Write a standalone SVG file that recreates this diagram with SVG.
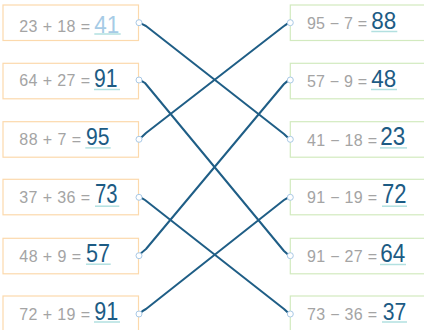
<svg xmlns="http://www.w3.org/2000/svg" width="424" height="330" viewBox="0 0 424 330">
<style>
.bl{fill:#fff;stroke:#fcd9ac;stroke-width:1.2}
.br{fill:#fff;stroke:#d2eabf;stroke-width:1.2}
.q{font-family:"Liberation Sans",Arial,sans-serif;font-size:16px;fill:#a4a4a4}
.a{font-family:"Liberation Sans",Arial,sans-serif;fill:#1c5b84}
.a.f{fill:#a6cbe6}
.u{stroke:#b2e0e0;stroke-width:1.5}
.c{fill:#fff;stroke:#a9c9e6;stroke-width:1}
.ln{fill:none;stroke:#1f5e86;stroke-width:2;stroke-linecap:round;stroke-linejoin:round}
</style>
<g id="connectors">
<path class="ln" d="M139,22.7 Q142,24 146,26 L284,134 Q287,137 290,139.3"/>
<path class="ln" d="M139,80 Q142,81 145,83 L284,251 Q287,254 290,255.7"/>
<path class="ln" d="M139,139.3 Q142,137 146,133 L284,26 Q287,23.5 290,22.7"/>
<path class="ln" d="M139,197.3 Q142,198 145,200 L284,309 Q287,312 290,314"/>
<path class="ln" d="M139,255.7 Q142,252 146,249 L284,84 Q287,81 290,80"/>
<path class="ln" d="M139,314 Q142,311 146,309 L284,200 Q287,198 290,197.3"/>
</g>
<g id="L1"><rect class="bl" x="3" y="5" width="135.5" height="35.5"/><text class="q" x="19.3" y="32.3" textLength="70.7">23 + 18 =</text><line class="u" x1="94.3" y1="34" x2="120.7" y2="34"/><text class="a f" x="94.3" y="32.7" font-size="24.7" textLength="25" lengthAdjust="spacingAndGlyphs">41</text><circle class="c" cx="139" cy="22.7" r="3"/></g>
<g id="L2"><rect class="bl" x="3" y="63.3" width="135.5" height="35.5"/><text class="q" x="19.3" y="86" textLength="70.7">64 + 27 =</text><line class="u" x1="94" y1="89.5" x2="120" y2="89.5"/><text class="a" x="94" y="87.3" font-size="26.5" textLength="23.5" lengthAdjust="spacingAndGlyphs">91</text><circle class="c" cx="139" cy="80" r="3"/></g>
<g id="L3"><rect class="bl" x="3" y="121.7" width="135.5" height="35.5"/><text class="q" x="19.3" y="145" textLength="61.7">88 + 7 =</text><line class="u" x1="85.3" y1="147.9" x2="110.7" y2="147.9"/><text class="a" x="86" y="145" font-size="24.7" textLength="23.5" lengthAdjust="spacingAndGlyphs">95</text><circle class="c" cx="139" cy="139.3" r="3"/></g>
<g id="L4"><rect class="bl" x="3" y="179.3" width="135.5" height="35.5"/><text class="q" x="19.3" y="203.3" textLength="70.7">37 + 36 =</text><line class="u" x1="95" y1="206.2" x2="119.3" y2="206.2"/><text class="a" x="95" y="203.3" font-size="27" textLength="22.5" lengthAdjust="spacingAndGlyphs">73</text><circle class="c" cx="139" cy="197.3" r="3"/></g>
<g id="L5"><rect class="bl" x="3" y="238.3" width="135.5" height="35.5"/><text class="q" x="19.3" y="261.7" textLength="61.7">48 + 9 =</text><line class="u" x1="86" y1="264.2" x2="110.7" y2="264.2"/><text class="a" x="86" y="261.7" font-size="25.7" textLength="24" lengthAdjust="spacingAndGlyphs">57</text><circle class="c" cx="139" cy="255.7" r="3"/></g>
<g id="L6"><rect class="bl" x="3" y="296" width="135.5" height="35.5"/><text class="q" x="19.3" y="320" textLength="70.7">72 + 19 =</text><line class="u" x1="94" y1="322" x2="120" y2="322"/><text class="a" x="94.3" y="320" font-size="25.6" textLength="24" lengthAdjust="spacingAndGlyphs">91</text><circle class="c" cx="139" cy="314" r="3"/></g>
<g id="R1"><rect class="br" x="290.3" y="5" width="140" height="35.5"/><text class="q" x="307" y="29" textLength="60">95 − 7 =</text><line class="u" x1="371.3" y1="31.5" x2="397.3" y2="31.5"/><text class="a" x="371.3" y="29.3" font-size="23.2" textLength="25" lengthAdjust="spacingAndGlyphs">88</text><circle class="c" cx="290.3" cy="22.7" r="3"/></g>
<g id="R2"><rect class="br" x="290.3" y="63.3" width="140" height="35.5"/><text class="q" x="307" y="86.7" textLength="60">57 − 9 =</text><line class="u" x1="371" y1="89.5" x2="397" y2="89.5"/><text class="a" x="371.3" y="87.3" font-size="23.2" textLength="25" lengthAdjust="spacingAndGlyphs">48</text><circle class="c" cx="290.3" cy="80" r="3"/></g>
<g id="R3"><rect class="br" x="290.3" y="121.7" width="140" height="35.5"/><text class="q" x="307" y="145.7" textLength="70">41 − 18 =</text><line class="u" x1="380" y1="147.9" x2="407" y2="147.9"/><text class="a" x="380.3" y="145" font-size="25.6" textLength="25" lengthAdjust="spacingAndGlyphs">23</text><circle class="c" cx="290.3" cy="139.3" r="3"/></g>
<g id="R4"><rect class="br" x="290.3" y="179.3" width="140" height="35.5"/><text class="q" x="307" y="203.3" textLength="70">91 − 19 =</text><line class="u" x1="382" y1="206.2" x2="407" y2="206.2"/><text class="a" x="382" y="203.3" font-size="27" textLength="24.5" lengthAdjust="spacingAndGlyphs">72</text><circle class="c" cx="290.3" cy="197.3" r="3"/></g>
<g id="R5"><rect class="br" x="290.3" y="238.3" width="140" height="35.5"/><text class="q" x="307" y="262" textLength="70">91 − 27 =</text><line class="u" x1="380" y1="264.5" x2="406" y2="264.5"/><text class="a" x="380.3" y="262" font-size="26.5" textLength="25" lengthAdjust="spacingAndGlyphs">64</text><circle class="c" cx="290.3" cy="255.7" r="3"/></g>
<g id="R6"><rect class="br" x="290.3" y="296" width="140" height="35.5"/><text class="q" x="307" y="320" textLength="70">73 − 36 =</text><line class="u" x1="382" y1="322" x2="407" y2="322"/><text class="a" x="382.7" y="320" font-size="23.3" textLength="23.5" lengthAdjust="spacingAndGlyphs">37</text><circle class="c" cx="290.3" cy="314" r="3"/></g>
</svg>
